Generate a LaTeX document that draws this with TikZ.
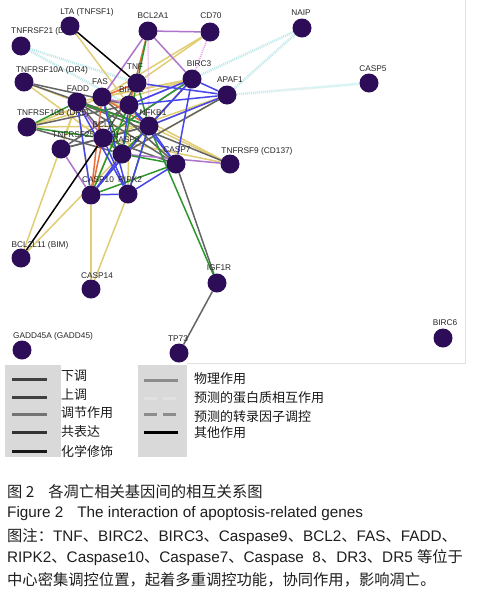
\documentclass[tikz,border=0pt]{standalone}
\usepackage{fontspec}
\setmainfont{Liberation Sans}
\newfontfamily\cjk{Noto Sans CJK SC}
\newcommand{\zh}[1]{{\cjk #1}}
\usetikzlibrary{calc}
\pgfdeclarelayer{bg}
\pgfdeclarelayer{edges}
\pgfdeclarelayer{labels}
\pgfsetlayers{bg,edges,labels,main}
\definecolor{nodec}{RGB}{45,12,88}
\definecolor{cyel}{RGB}{225,205,115}
\definecolor{cgry}{RGB}{100,100,100}
\definecolor{cblu}{RGB}{70,70,235}
\definecolor{cgrn}{RGB}{45,150,45}
\definecolor{cpur}{RGB}{175,115,205}
\definecolor{cora}{RGB}{232,110,60}
\definecolor{ccya}{RGB}{190,232,232}
\definecolor{cpnk}{RGB}{235,160,235}
\definecolor{legbg}{RGB}{217,217,217}
\definecolor{framec}{RGB}{225,225,225}
\definecolor{captc}{RGB}{30,30,30}
\begin{document}
\begin{tikzpicture}[x=1pt,y=-1pt,
  gene/.style={circle,fill=nodec,minimum size=19pt,inner sep=0pt},
  lbl/.style={font=\fontsize{8.3}{9}\selectfont,inner sep=0pt,text=black!85},
  edge/.style={line width=1.5pt},
  eyel/.style={edge,draw=cyel},
  egry/.style={edge,draw=cgry},
  eblu/.style={edge,draw=cblu},
  egrn/.style={edge,draw=cgrn},
  epur/.style={edge,draw=cpur},
  eora/.style={edge,draw=cora},
  ecya/.style={line width=2.5pt,draw=ccya,dash pattern=on 1pt off 1pt},
  epnk/.style={line width=1.6pt,draw=cpnk,dash pattern=on 1pt off 1pt},
  eblk/.style={edge,draw=black},
  legtxt/.style={font=\cjk\fontsize{13}{14}\selectfont,anchor=west,inner sep=0pt,text=black!90},
  captxt/.style={font=\fontsize{15.3}{16}\selectfont,anchor=west,inner sep=0pt,text=captc},
  legline/.style={line width=3pt}]
\begin{pgfonlayer}{bg}
\fill[white] (0,0) rectangle (479,598);
\end{pgfonlayer}
\useasboundingbox (0,0) rectangle (479,598);

% genes
\node[gene] (lta) at (70,26) {};
\node[gene] (dr6) at (21,46) {};
\node[gene] (bcl2a1) at (148,31) {};
\node[gene] (cd70) at (210,32) {};
\node[gene] (naip) at (302,28) {};
\node[gene] (casp5) at (369,83) {};
\node[gene] (birc3) at (192,79) {};
\node[gene] (apaf1) at (227,95) {};
\node[gene] (tnf) at (137,83) {};
\node[gene] (dr4) at (24,82) {};
\node[gene] (fas) at (102,97) {};
\node[gene] (fadd) at (77,102) {};
\node[gene] (birc2) at (129,105) {};
\node[gene] (nfkb1) at (149,126) {};
\node[gene] (dr5) at (27,127) {};
\node[gene] (bcl2) at (103,138) {};
\node[gene] (dr3) at (61,149) {};
\node[gene] (casp8) at (122,154) {};
\node[gene] (casp7) at (176,164) {};
\node[gene] (cd137) at (230,164) {};
\node[gene] (casp10) at (91,195) {};
\node[gene] (ripk2) at (128,194) {};
\node[gene] (bim) at (21,258) {};
\node[gene] (casp14) at (91,289) {};
\node[gene] (igf1r) at (217,283) {};
\node[gene] (gadd45) at (22,350) {};
\node[gene] (tp73) at (179,353) {};
\node[gene] (birc6) at (443,338) {};

\begin{pgfonlayer}{labels}
\node[lbl] (t-lta) at (87,12) {LTA (TNFSF1)};
\node[lbl,anchor=west] (t-dr6) at (11,31) {TNFRSF21 (DR6)};
\node[lbl] (t-bcl2a1) at (153,16) {BCL2A1};
\node[lbl] (t-cd70) at (211,16) {CD70};
\node[lbl] (t-naip) at (301,13) {NAIP};
\node[lbl] (t-casp5) at (373,69) {CASP5};
\node[lbl] (t-birc3) at (199,64) {BIRC3};
\node[lbl] (t-apaf1) at (230,80) {APAF1};
\node[lbl] (t-tnf) at (135,67) {TNF};
\node[lbl] (t-dr4) at (52,70) {TNFRSF10A (DR4)};
\node[lbl] (t-fas) at (100,82) {FAS};
\node[lbl] (t-fadd) at (78,89) {FADD};
\node[lbl,anchor=west] (t-birc2) at (119,90) {BIRC2};
\node[lbl] (t-nfkb1) at (153,113) {NFKB1};
\node[lbl] (t-dr5) at (53,113) {TNFRSF10B (DR5)};
\node[lbl] (t-bcl2) at (103,125) {BCL2};
\node[lbl,anchor=west] (t-dr3) at (52,135) {TNFRSF25 (DR3)};
\node[lbl] (t-casp8) at (126,140) {CASP8};
\node[lbl] (t-casp7) at (177,150) {CASP7};
\node[lbl] (t-cd137) at (257,151) {TNFRSF9 (CD137)};
\node[lbl] (t-casp10) at (98,180) {CASP10};
\node[lbl] (t-ripk2) at (130,180) {RIPK2};
\node[lbl] (t-bim) at (40,245) {BCL2L11 (BIM)};
\node[lbl] (t-casp14) at (97,276) {CASP14};
\node[lbl] (t-igf1r) at (219,268) {IGF1R};
\node[lbl] (t-gadd45) at (53,336) {GADD45A (GADD45)};
\node[lbl] (t-tp73) at (178,339) {TP73};
\node[lbl] (t-birc6) at (445,323) {BIRC6};
\end{pgfonlayer}

\begin{pgfonlayer}{edges}
\draw[draw=framec,line width=0.8pt] (465,0) -- (465,363) -- (187,363);
\foreach \a/\b in {dr6/tnf,dr6/birc2,naip/birc3,naip/apaf1,casp5/apaf1}
  \draw[ecya] (\a) -- (\b);
\foreach \a/\b in {lta/birc2,cd70/fas,birc3/fas,birc3/fadd,apaf1/nfkb1,apaf1/bcl2,apaf1/casp8,
  cd137/nfkb1,cd137/bcl2,dr4/fadd,dr4/casp8,dr5/fas,dr5/nfkb1,dr5/birc3,bim/casp8,bim/fadd,
  casp14/casp10,casp14/ripk2,casp10/fadd,ripk2/birc2,birc3/casp8,dr3/fadd,tnf/casp10,cd70/tnf,
  fas/casp7,cd137/fas}
  \draw[eyel] (\a) -- (\b);
\foreach \a/\b in {dr4/nfkb1,dr5/birc2,dr5/casp8,dr3/nfkb1,apaf1/casp8,birc3/nfkb1,cd137/fadd,
  casp7/igf1r,igf1r/tp73,casp10/nfkb1,casp7/bcl2,fadd/casp8,casp7/fas,dr3/bcl2,tnf/bcl2,
  dr4/birc2,fadd/casp7,bcl2/nfkb1,dr3/birc2}
  \draw[egry] (\a) -- (\b);
\foreach \a/\b in {bcl2a1/cd70,bcl2a1/birc3,bcl2a1/fas,birc3/birc2,birc3/bcl2,dr3/casp10,
  cd137/casp8,birc2/fas,fadd/bcl2}
  \draw[epur] (\a) -- (\b);
\foreach \a/\b in {cd70/birc3,bcl2a1/nfkb1}
  \draw[epnk] (\a) -- (\b);
\foreach \a/\b in {bcl2a1/birc2,fas/nfkb1,casp10/bcl2,casp10/fas,tnf/fas}
  \draw[eora] (\a) -- (\b);
\foreach \a/\b in {bcl2a1/tnf,birc3/bcl2,nfkb1/igf1r,nfkb1/ripk2,casp7/casp10,fadd/nfkb1,
  dr5/fadd,dr5/bcl2,tnf/nfkb1,casp7/casp8,bcl2/casp8,casp10/birc2,tnf/casp8,fas/casp8,casp8/nfkb1}
  \draw[egrn] (\a) -- (\b);
\foreach \a/\b in {birc3/apaf1,birc3/nfkb1,birc3/casp7,apaf1/tnf,apaf1/birc2,apaf1/nfkb1,
  casp10/ripk2,casp10/nfkb1,ripk2/nfkb1,ripk2/casp7,casp7/nfkb1,fadd/casp10,birc2/casp8,
  fas/ripk2,bcl2/ripk2,casp8/casp10,birc3/birc2,birc2/casp7,birc2/nfkb1,fadd/ripk2}
  \draw[eblu] (\a) -- (\b);
\foreach \a/\b in {lta/tnf,bim/bcl2}
  \draw[eblk] (\a) -- (\b);
\end{pgfonlayer}

% legend
\fill[legbg] (5,365) rectangle (61,457);
\fill[legbg] (138,365) rectangle (187,457);
\draw[legline,black!75] (12,379) -- (47,379);
\draw[legline,black!75] (12,397) -- (47,397);
\draw[legline,black!55] (12,414) -- (47,414);
\draw[legline,black!80] (12,432) -- (47,432);
\draw[legline,black!90] (12,451) -- (47,451);
\draw[legline,black!45] (144,380) -- (178,380);
\draw[legline,black!12,dash pattern=on 13pt off 6pt] (144,398) -- (176,398);
\draw[legline,black!45,dash pattern=on 13pt off 6pt] (144,414) -- (176,414);
\draw[legline,black] (144,432) -- (178,432);
\node[legtxt] (l1) at (61,376) {下调};
\node[legtxt] (l2) at (61,395) {上调};
\node[legtxt] (l3) at (61,413) {调节作用};
\node[legtxt] (l4) at (61,432) {共表达};
\node[legtxt] (l5) at (61,451) {化学修饰};
\node[legtxt] (r1) at (194,379) {物理作用};
\node[legtxt] (r2) at (194,398) {预测的蛋白质相互作用};
\node[legtxt] (r3) at (194,417) {预测的转录因子调控};
\node[legtxt] (r4) at (194,433) {其他作用};

% caption
\node[captxt] (c1) at (7,492) {\zh{图 2\hspace{14pt}各凋亡相关基因间的相互关系图}};
\node[captxt] (c2) at (7,514) {Figure 2\hspace{14pt}The interaction of apoptosis-related genes};
\node[captxt] (c3) at (7,537) {\zh{图注：}TNF\zh{、}BIRC2\zh{、}BIRC3\zh{、}Caspase9\zh{、}BCL2\zh{、}FAS\zh{、}FADD\zh{、}};
\node[captxt] (c4) at (7,558) {RIPK2\zh{、}Caspase10\zh{、}Caspase7\zh{、}Caspase\ \ 8\zh{、}DR3\zh{、}DR5 \zh{等位于}};
\node[captxt] (c5) at (7,580) {\zh{中心密集调控位置，起着多重调控功能，协同作用，影响凋亡。}};
\end{tikzpicture}
\end{document}
